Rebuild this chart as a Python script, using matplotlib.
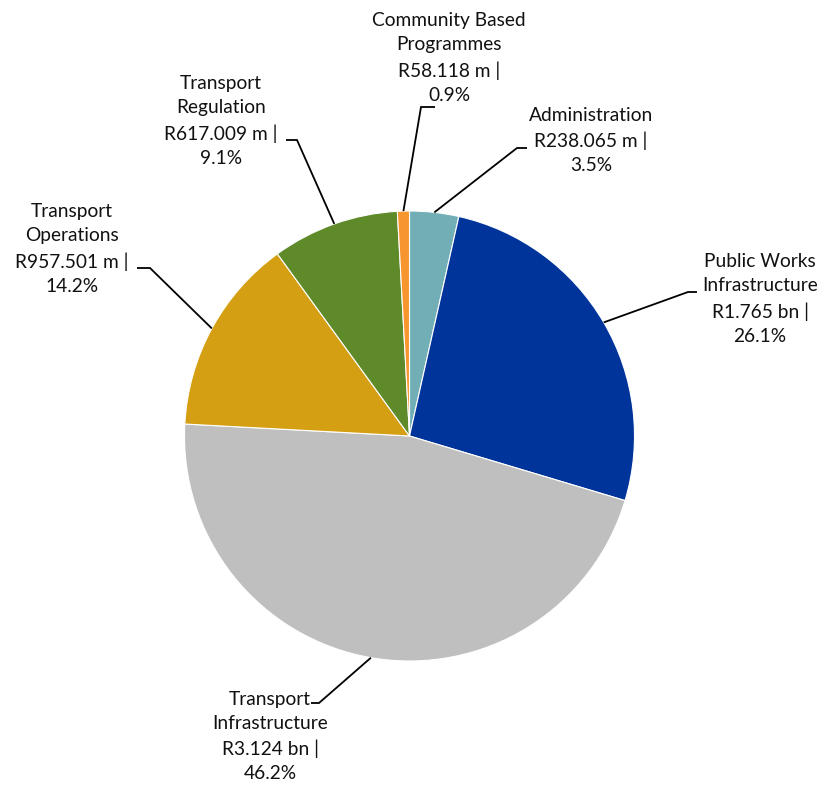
import matplotlib
matplotlib.use("Agg")
import matplotlib.pyplot as plt
import numpy as np

# ---- data ----
categories = ["Administration", "Public Works\nInfrastructure", "Transport\nInfrastructure",
              "Transport\nOperations", "Transport\nRegulation", "Community Based\nProgrammes"]
values_m = [238.065, 1765.0, 3124.0, 957.501, 617.009, 58.118]  # R millions
colors = ["#71AEB6", "#00349A", "#BFBFBF", "#D59F13", "#5E8A2A", "#F7952F"]

# ---- layout (pixel coordinates, y downward) ----
W, H = 825, 787
cx, cy, R = 409.5, 436.0, 225.0
label_pos = [(591, 140.5), (760, 299), (270, 736.5), (72, 249), (221, 121), (449, 58)]
elbows = [((517, 148), (527, 148)),
          ((688, 292), (697, 292)),
          ((319, 703), (311, 703)),
          ((150, 268), (137, 268)),
          ((297, 140), (286, 140)),
          ((421, 107), (435, 107))]

fig = plt.figure(figsize=(W / 100, H / 100), dpi=100)
ax = fig.add_axes([0, 0, 1, 1])

def Y(y):
    return H - y

ax.pie(values_m, colors=colors, startangle=90, counterclock=False, radius=R,
       center=(cx, Y(cy)), wedgeprops=dict(edgecolor="white", linewidth=0.8),
       frame=True)
ax.set_xlim(0, W)
ax.set_ylim(0, H)
ax.set_aspect("equal")
ax.axis("off")

total = sum(values_m)
cum = 0.0
for i, v in enumerate(values_m):
    frac = v / total
    mid = (cum + frac / 2) * 2 * np.pi
    cum += frac
    sx = cx + R * np.sin(mid)
    sy = cy - R * np.cos(mid)
    (ex, ey), (hx, hy) = elbows[i]
    ax.plot([sx, ex, hx], [Y(sy), Y(ey), Y(hy)], color="black", lw=1.3,
            solid_capstyle="butt", solid_joinstyle="miter")
    if v >= 1000:
        vs = f"R{v/1000:.3f} bn |"
    else:
        vs = f"R{v:.3f} m |"
    txt = f"{categories[i]}\n{vs}\n{frac*100:.1f}%"
    lx, ly = label_pos[i]
    ax.text(lx, Y(ly), txt, ha="center", va="center", multialignment="center",
            fontsize=13.8, family=["Lato", "DejaVu Sans"], color="#111111",
            linespacing=1.5)

fig.savefig("out.png", dpi=100)
